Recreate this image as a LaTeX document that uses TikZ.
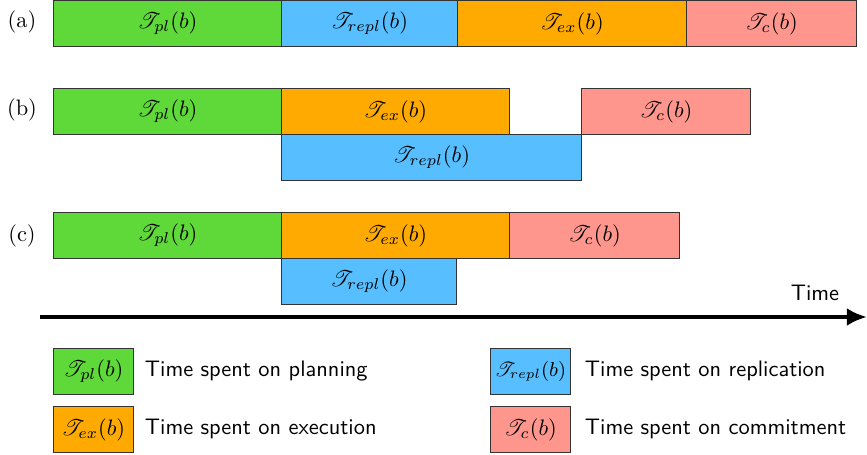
\documentclass[tikz,border=0pt]{standalone}
\usepackage{amsmath}
\usepackage{mathrsfs}
\usepackage{xcolor}
\usepackage{tikz}
\usetikzlibrary{arrows.meta,positioning}

\definecolor{plgreen}{HTML}{5FD83A}
\definecolor{replblue}{HTML}{57BFFF}
\definecolor{exorange}{HTML}{FFAA00}
\definecolor{cpink}{HTML}{FF968D}

\newcommand{\tm}[1]{$\mathscr{T}_{#1}(b)$}
\def\u{0.0157cm}

\begin{document}
\begin{tikzpicture}[x=\u, y=-\u, seg/.style={draw=black!80, anchor=north west, inner sep=0pt, minimum height=46*\u, minimum width={#1*\u}}, key/.style={seg=80}, keytext/.style={anchor=west, font=\sffamily}]
  \useasboundingbox (0,0) rectangle (867,455);
  % (a)
  \node (lab-a) at (22,22) {(a)};
  \node[seg=228, fill=plgreen] (a-pl) at (53,0) {\tm{pl}};
  \node[seg=176, fill=replblue] (a-repl) at (281,0) {\tm{repl}};
  \node[seg=229, fill=exorange] (a-ex) at (457,0) {\tm{ex}};
  \node[seg=170, fill=cpink] (a-c) at (686,0) {\tm{c}};
  % (b)
  \node (lab-b) at (22,110) {(b)};
  \node[seg=228, fill=plgreen] (b-pl) at (53,88) {\tm{pl}};
  \node[seg=228, fill=exorange] (b-ex) at (281,88) {\tm{ex}};
  \node[seg=169, fill=cpink] (b-c) at (581,88) {\tm{c}};
  \node[seg=300, fill=replblue] (b-repl) at (281,134) {\tm{repl}};
  % (c)
  \node (lab-c) at (22,236) {(c)};
  \node[seg=228, fill=plgreen] (c-pl) at (53,212) {\tm{pl}};
  \node[seg=228, fill=exorange] (c-ex) at (281,212) {\tm{ex}};
  \node[seg=170, fill=cpink] (c-c) at (509,212) {\tm{c}};
  \node[seg=175, fill=replblue] (c-repl) at (281,258) {\tm{repl}};
  % time axis
  \coordinate (t0) at (40,317);
  \coordinate (t1) at (867,317);
  \draw[line width=2pt, -{Latex[length=9pt, width=8pt]}] (t0) -- (t1);
  \node[font=\sffamily] (time) at (815,293) {Time};
  % legend
  \node[key, fill=plgreen] (k-pl) at (53,348) {\tm{pl}};
  \node[key, fill=exorange] (k-ex) at (53,406) {\tm{ex}};
  \node[key, fill=replblue, font=\small] (k-repl) at (490,348) {\tm{repl}};
  \node[key, fill=cpink] (k-c) at (490,406) {\tm{c}};
  \node[keytext] (t-pl) at (137,371) {Time spent on planning};
  \node[keytext] (t-ex) at (137,429) {Time spent on execution};
  \node[keytext] (t-repl) at (577,371) {Time spent on replication};
  \node[keytext] (t-c) at (577,429) {Time spent on commitment};
\end{tikzpicture}
\end{document}
